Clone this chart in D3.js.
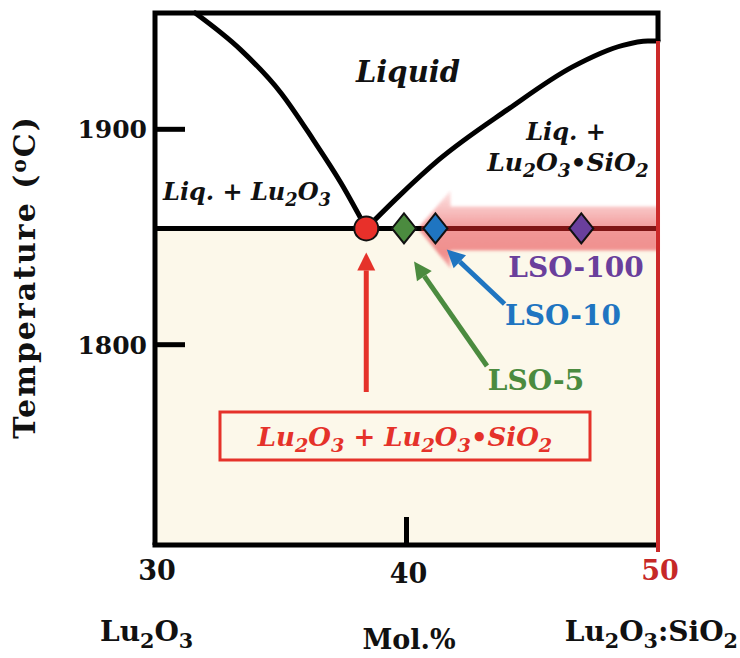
<!DOCTYPE html>
<html>
<head>
<meta charset="utf-8">
<script src="https://cdn.jsdelivr.net/npm/d3@7"></script>
<style>
  html, body { margin: 0; padding: 0; background: #ffffff; }
  svg { display: block; }
  text { font-family: "DejaVu Serif", "Liberation Serif", serif; font-weight: bold; }
</style>
</head>
<body>
<svg id="chart" width="740" height="658"></svg>
<script>
// Lu2O3–SiO2 phase diagram near the Lu2O3 / Lu2O3·SiO2 eutectic
const xTicks = [30, 40, 50];
const yTicks = [1800, 1900];
const xDomain = [30, 50];
const tDomain = [1707, 1954];

// eutectic point (mol.% SiO2, °C)
const eutecticX = 38.4;
const eutecticT = 1854;

// liquidus on the Lu2O3-rich side
const leftLiquidus = [
  [31.6, 1954], [33.4, 1937], [35.0, 1917], [36.3, 1895], [37.4, 1875], [38.4, 1854]
];
// liquidus on the Lu2O3·SiO2 side
const rightLiquidus = [
  [38.4, 1854], [39.7, 1869], [41.3, 1886], [44.0, 1909], [46.6, 1929], [48.6, 1939], [49.6, 1941], [50.0, 1941]
];

// grown crystals
const sampleNames = ["LSO-5", "LSO-10", "LSO-100"];
const sampleX = [39.9, 41.15, 46.95];
const sampleColors = ["#4b8b3f", "#1f75c1", "#6a3f9c"];

const svg = d3.select("#chart");
const pL = 155, pR = 658, pT = 13, pB = 545;

const x = d3.scaleLinear().domain(xDomain).range([pL, pR]);
const y = d3.scaleLinear().domain(tDomain).range([pB, pT]);

const ex = x(eutecticX), ey = y(eutecticT);
const RED = "#e5322a";

const defs = svg.append("defs");
const grad = defs.append("linearGradient")
  .attr("id", "arrowFill").attr("gradientUnits", "userSpaceOnUse")
  .attr("x1", 0).attr("x2", 0).attr("y1", ey - 40).attr("y2", ey + 42);
[[0, "#fde6e6"], [0.3, "#f7b4b4"], [0.5, "#f08e8e"], [0.8, "#ef8383"], [1, "#f6b0b0"]]
  .forEach(([o, c]) => grad.append("stop").attr("offset", o).attr("stop-color", c));
defs.append("filter").attr("id", "soft").attr("x", "-10%").attr("y", "-30%").attr("width", "120%").attr("height", "160%")
  .append("feGaussianBlur").attr("stdDeviation", 1.6);

// solid region below the eutectic
svg.append("rect")
  .attr("x", pL).attr("y", ey).attr("width", pR - pL).attr("height", pB - ey)
  .attr("fill", "#fcf8ea");

// wide arrow pointing toward the eutectic
const tipX = x(40.45), headX = x(41.75);
const arrowPts = [
  [tipX, ey], [headX, ey - 38], [headX, ey - 22], [pR, ey - 22],
  [pR, ey + 22], [headX, ey + 22], [headX, ey + 40]
];
svg.append("path")
  .attr("d", d3.line()(arrowPts) + "Z")
  .attr("fill", "url(#arrowFill)").attr("opacity", 0.9)
  .attr("filter", "url(#soft)");

// eutectic isotherm
svg.append("line")
  .attr("x1", pL).attr("x2", tipX + 4).attr("y1", ey).attr("y2", ey)
  .attr("stroke", "#000").attr("stroke-width", 5);
svg.append("line")
  .attr("x1", tipX + 4).attr("x2", pR).attr("y1", ey).attr("y2", ey)
  .attr("stroke", "#7f1515").attr("stroke-width", 5);

// liquidus curves
const curve = d3.line().x(d => x(d[0])).y(d => y(d[1])).curve(d3.curveMonotoneX);
[leftLiquidus, rightLiquidus].forEach(pts => {
  svg.append("path").attr("d", curve(pts))
    .attr("fill", "none").attr("stroke", "#000").attr("stroke-width", 5).attr("stroke-linecap", "round");
});

// frame
svg.append("path")
  .attr("d", `M${pL},${pB}V${pT}H${pR}V${y(1941)}`)
  .attr("fill", "none").attr("stroke", "#000").attr("stroke-width", 5).attr("stroke-linejoin", "miter");
svg.append("line")
  .attr("x1", pL - 2.5).attr("x2", pR).attr("y1", pB).attr("y2", pB)
  .attr("stroke", "#000").attr("stroke-width", 5);
svg.append("line")
  .attr("x1", pR).attr("x2", pR).attr("y1", y(1941)).attr("y2", pB + 7)
  .attr("stroke", "#cc2a2a").attr("stroke-width", 4);

// inward ticks
yTicks.forEach(t => {
  svg.append("line").attr("x1", pL).attr("x2", pL + 30).attr("y1", y(t)).attr("y2", y(t))
    .attr("stroke", "#000").attr("stroke-width", 5);
  svg.append("text").attr("x", pL - 8).attr("y", y(t) + 9).attr("text-anchor", "end")
    .attr("font-size", 25).attr("fill", "#111").text(t);
});
svg.append("line").attr("x1", x(40)).attr("x2", x(40)).attr("y1", pB - 28).attr("y2", pB)
  .attr("stroke", "#000").attr("stroke-width", 5);
xTicks.forEach(v => {
  svg.append("text").attr("x", x(v) + 2).attr("y", v === 40 ? 583 : 580).attr("text-anchor", "middle")
    .attr("font-size", 27).attr("fill", v === 50 ? "#c62828" : "#111").text(v);
});

// axis titles
const yTitle = svg.append("text").attr("transform", "translate(35,277) rotate(-90)").attr("text-anchor", "middle")
  .attr("font-size", 30).attr("letter-spacing", 2).attr("fill", "#111");
yTitle.append("tspan").text("Temperature (");
yTitle.append("tspan").attr("font-size", 20).attr("dy", -9).text("o");
yTitle.append("tspan").attr("dy", 9).text("C)");
svg.append("text").attr("x", 409).attr("y", 649).attr("text-anchor", "middle")
  .attr("font-size", 27).attr("fill", "#111").text("Mol.%");

// chemical formulas: parts starting with "_" are subscripts
function formula(sel, parts, size) {
  let shift = 0;
  parts.forEach(p => {
    const sub = p[0] === "_";
    const target = sub ? size * 0.24 : 0;
    sel.append("tspan")
      .attr("font-size", sub ? size * 0.74 : size)
      .attr("dy", target - shift)
      .text(sub ? p.slice(1) : p);
    shift = target;
  });
  return sel;
}

formula(svg.append("text").attr("x", 100).attr("y", 641).attr("fill", "#111"),
  ["Lu", "_2", "O", "_3"], 28);
formula(svg.append("text").attr("x", 738).attr("y", 641).attr("text-anchor", "end").attr("fill", "#111"),
  ["Lu", "_2", "O", "_3", ":SiO", "_2"], 28);

// phase field labels
svg.append("text").attr("x", 408).attr("y", 82).attr("text-anchor", "middle")
  .attr("font-size", 29).attr("font-style", "italic").attr("fill", "#111").text("Liquid");
formula(svg.append("text").attr("x", 163).attr("y", 200).attr("font-style", "italic").attr("fill", "#111"),
  ["Liq. + Lu", "_2", "O", "_3"], 24);
svg.append("text").attr("x", 566).attr("y", 140).attr("text-anchor", "middle")
  .attr("font-size", 24).attr("font-style", "italic").attr("fill", "#111").text("Liq. +");
formula(svg.append("text").attr("x", 568).attr("y", 171).attr("text-anchor", "middle").attr("font-style", "italic").attr("fill", "#111"),
  ["Lu", "_2", "O", "_3", "\u2022SiO", "_2"], 25);

// solid-field label box
svg.append("rect").attr("x", 220).attr("y", 412).attr("width", 370).attr("height", 48)
  .attr("fill", "none").attr("stroke", RED).attr("stroke-width", 3);
formula(svg.append("text").attr("x", 405).attr("y", 446).attr("text-anchor", "middle").attr("font-style", "italic").attr("fill", RED),
  ["Lu", "_2", "O", "_3", " + Lu", "_2", "O", "_3", "\u2022SiO", "_2"], 26);

// straight pointer arrows
function pointer(x1, y1, x2, y2, color) {
  const a = Math.atan2(y2 - y1, x2 - x1), L = 18, W = 9;
  const bx = x2 - L * Math.cos(a), by = y2 - L * Math.sin(a);
  svg.append("line").attr("x1", x1).attr("y1", y1).attr("x2", bx).attr("y2", by)
    .attr("stroke", color).attr("stroke-width", 5);
  svg.append("path").attr("d", d3.line()([
    [x2, y2],
    [bx + W * Math.sin(a), by - W * Math.cos(a)],
    [bx - W * Math.sin(a), by + W * Math.cos(a)]
  ]) + "Z").attr("fill", color);
}
pointer(ex, 392, ex, ey + 24, RED);
pointer(x(43.9), 304, x(41.6), ey + 21, sampleColors[1]);
pointer(x(43.2), 366, x(40.3), ey + 33, sampleColors[0]);

// eutectic marker
svg.append("circle").attr("cx", ex).attr("cy", ey).attr("r", 12)
  .attr("fill", "#e8302a").attr("stroke", "#111").attr("stroke-width", 2);

// sample markers
sampleX.forEach((v, i) => {
  const cx = x(v);
  svg.append("path").attr("d", d3.line()([[cx, ey - 15], [cx + 12, ey], [cx, ey + 15], [cx - 12, ey]]) + "Z")
    .attr("fill", sampleColors[i]).attr("stroke", "#111").attr("stroke-width", 2).attr("stroke-linejoin", "miter");
});

// sample labels
const labelPos = [[536, 390], [563, 325], [576, 277]];
sampleNames.forEach((n, i) => {
  svg.append("text").attr("x", labelPos[i][0]).attr("y", labelPos[i][1]).attr("text-anchor", "middle")
    .attr("font-size", 28).attr("fill", sampleColors[i]).text(n);
});
</script>
</body>
</html>
